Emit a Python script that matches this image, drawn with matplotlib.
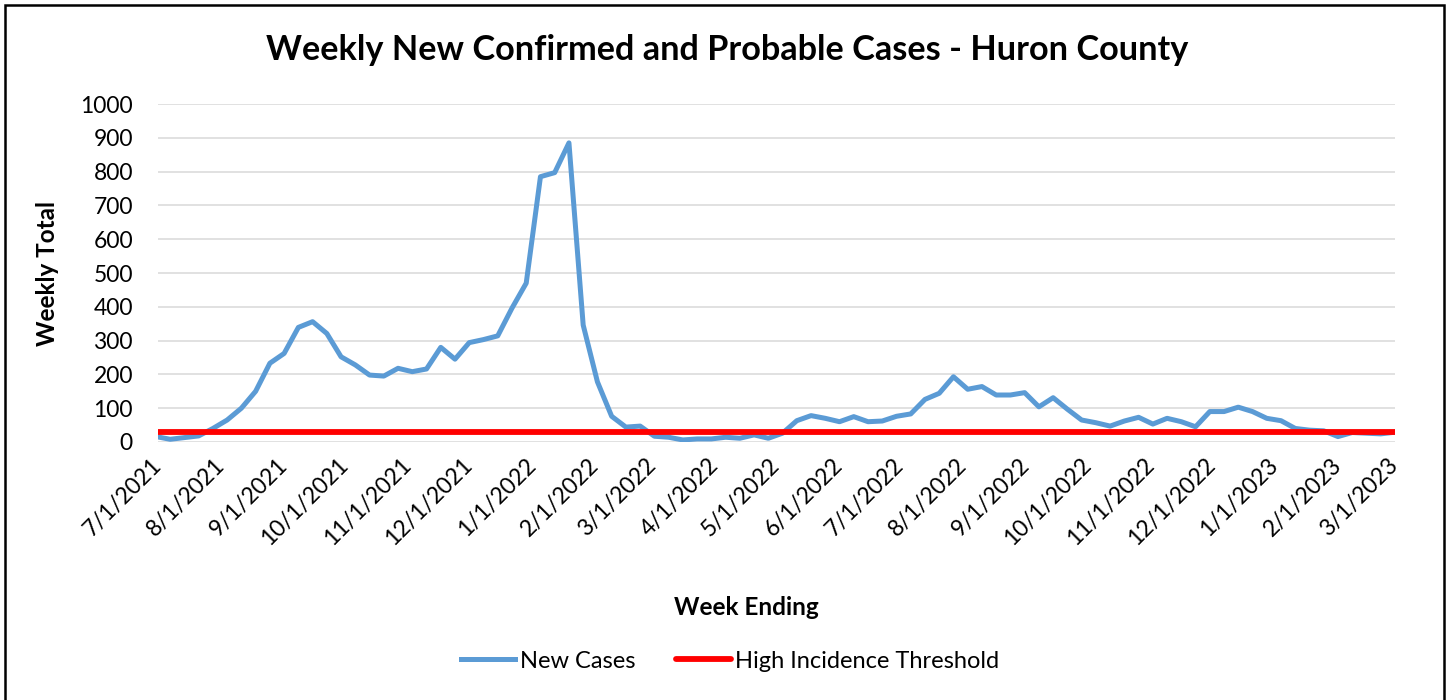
import datetime as dt
import matplotlib
matplotlib.use("Agg")
import matplotlib.pyplot as plt
import matplotlib.dates as mdates
from matplotlib.ticker import FuncFormatter, MultipleLocator
from matplotlib.patches import Rectangle

plt.rcParams["font.family"] = ["Lato", "DejaVu Sans"]

# Weekly new confirmed and probable cases
start_week = dt.date(2021, 6, 30)
new_cases = [
    16, 8, 13, 18, 40, 65, 100, 150, 233, 262,
    339, 356, 321, 252, 228, 198, 195, 218, 208, 216,
    280, 245, 294, 303, 314, 396, 470, 785, 797, 885,
    346, 178, 76, 44, 47, 17, 14, 6, 9, 9,
    14, 11, 21, 11, 26, 63, 78, 70, 60, 75,
    60, 62, 76, 83, 126, 144, 193, 156, 164, 139,
    139, 146, 104, 131, 97, 65, 57, 47, 62, 73,
    53, 70, 60, 45, 90, 90, 103, 90, 70, 63,
    40, 35, 33, 16, 28, 26, 24, 29,
]
threshold = 30
weeks = [start_week + dt.timedelta(days=7 * i) for i in range(len(new_cases))]

fig = plt.figure(figsize=(14.52, 7.0), dpi=100)
ax = fig.add_axes([0.1088, 0.3686, 0.8519, 0.4828])

ax.plot(weeks, new_cases, color="#5B9BD5", linewidth=3.6,
        solid_joinstyle="round", label="New Cases", zorder=3)
ax.plot(weeks, [threshold] * len(weeks), color="#FF0000", linewidth=4.2,
        solid_capstyle="round", label="High Incidence Threshold", zorder=4)

# Axes styling, Excel look
ax.set_ylim(0, 1000)
ax.yaxis.set_major_locator(MultipleLocator(100))
ax.set_xlim(dt.date(2021, 7, 1), dt.date(2023, 3, 1))
ax.xaxis.set_major_locator(mdates.MonthLocator())
ax.xaxis.set_major_formatter(FuncFormatter(
    lambda v, pos: (lambda d: f"{d.month}/{d.day}/{d.year}")(mdates.num2date(v))))
ax.grid(axis="y", color="#D9D9D9", linewidth=1.1, zorder=0)
for s in ax.spines.values():
    s.set_visible(False)
ax.tick_params(axis="both", length=0, labelsize=16.5)
ax.tick_params(axis="y", pad=18)
ax.tick_params(axis="x", pad=14)
for lbl in ax.get_xticklabels():
    lbl.set_rotation(45)
    lbl.set_ha("right")
    lbl.set_va("center")
    lbl.set_rotation_mode("anchor")

fig.text(727 / 1452, 1 - 50 / 700,
         "Weekly New Confirmed and Probable Cases - Huron County",
         fontsize=24.7, fontweight="bold", ha="center", va="center")
ax.set_xlabel("Week Ending", fontsize=17.5, fontweight="bold")
ax.xaxis.set_label_coords(0.476, -0.456)
ax.set_ylabel("Weekly Total", fontsize=17.5, fontweight="bold")
ax.yaxis.set_label_coords(-0.08, 0.5)

fig.legend(loc="center", bbox_to_anchor=(730 / 1452, 1 - 661 / 700), ncol=2,
           frameon=False, fontsize=17, handlelength=2.3, columnspacing=1.75,
           handletextpad=0.2)

# Chart border
fig.patches.append(Rectangle((5 / 1452, -0.01), 1439 / 1452, 1 - 5 / 700 + 0.01,
                             transform=fig.transFigure, fill=False,
                             edgecolor="black", linewidth=1.8))

fig.savefig("out.png", dpi=100)
